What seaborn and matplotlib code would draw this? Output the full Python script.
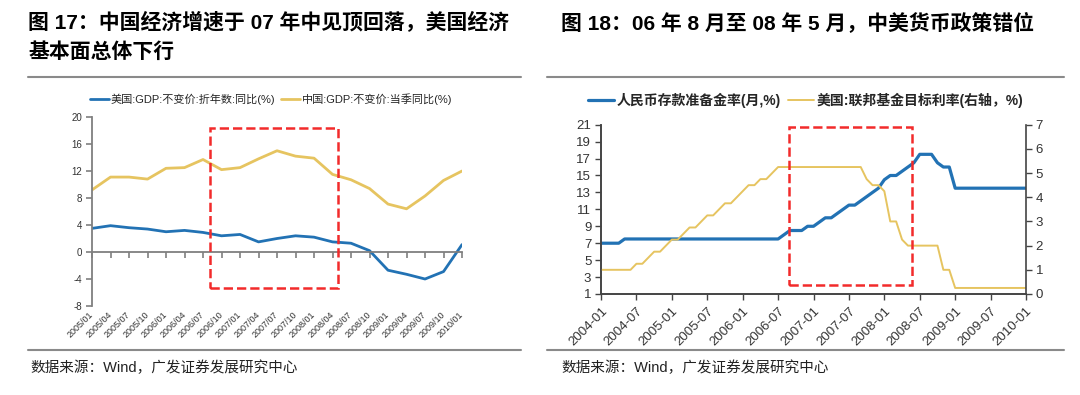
import pandas as pd
import matplotlib
matplotlib.use("Agg")
import matplotlib.pyplot as plt
import seaborn as sns
from matplotlib.patches import Rectangle
from matplotlib.lines import Line2D

sns.set_style("white")
plt.rcParams['font.family'] = ['Liberation Sans', 'Noto Sans CJK SC', 'DejaVu Sans']
plt.rcParams['axes.unicode_minus'] = False

# ---- data: figure 17 (quarterly GDP yoy)
quarters = ["2005/01", "2005/04", "2005/07", "2005/10", "2006/01", "2006/04", "2006/07",
            "2006/10", "2007/01", "2007/04", "2007/07", "2007/10", "2008/01", "2008/04",
            "2008/07", "2008/10", "2009/01", "2009/04", "2009/07", "2009/10", "2010/01"]
us_gdp = [3.5, 3.9, 3.6, 3.4, 3.0, 3.2, 2.9, 2.4, 2.6, 1.5, 2.0, 2.4, 2.2, 1.5,
          1.3, 0.2, -2.7, -3.3, -4.0, -2.9, 1.1]
cn_gdp = [9.2, 11.1, 11.1, 10.8, 12.4, 12.5, 13.7, 12.2, 12.5, 13.8, 15.0, 14.2, 13.9, 11.5,
          10.7, 9.4, 7.1, 6.4, 8.3, 10.6, 12.0]
box17 = (6.4, 13.3, -5.35, 18.4)

# ---- data: figure 18 (monthly, 2004-01 .. 2010-01)
month_ticks = ["2004-01", "2004-07", "2005-01", "2005-07", "2006-01", "2006-07", "2007-01",
               "2007-07", "2008-01", "2008-07", "2009-01", "2009-07", "2010-01"]
rrr = ([7.0] * 4 + [7.5] * 27 + [8.0] + [8.5] * 3 + [9.0] * 2 + [9.5] + [10.0] * 2
       + [10.5, 11.0] + [11.5] * 2 + [12.0, 12.5, 13.0, 13.5, 14.5] + [15.0] * 2
       + [15.5, 16.0, 16.5] + [17.5] * 3 + [16.5] + [16.0] * 2 + [13.5] * 13)
fed_rate = ([1.0] * 6 + [1.25] * 2 + [1.5] + [1.75] * 2 + [2.0] + [2.25] * 2 + [2.5]
            + [2.75] * 2 + [3.0] + [3.25] * 2 + [3.5] + [3.75] * 2 + [4.0, 4.25]
            + [4.5] * 2 + [4.75] * 2 + [5.0] + [5.25] * 15 + [4.75] + [4.5] * 2 + [4.25]
            + [3.0] * 2 + [2.25] + [2.0] * 6 + [1.0] * 2 + [0.25] * 13)
box18 = (31.8, 52.7, 2.1, 20.7)

BLUE = "#2272B4"
GOLD = "#E6C460"
RED = "#F22B2B"
AXC = "#7f7f7f"

fig = plt.figure(figsize=(10.8, 3.95), dpi=100)

# ================= left panel =================
ax1 = fig.add_axes([0.0852, 0.2253, 0.3426, 0.4785])
df_gdp = pd.DataFrame({"q": range(len(quarters)), "us": us_gdp, "cn": cn_gdp})
sns.lineplot(data=df_gdp, x="q", y="cn", ax=ax1, color=GOLD, lw=2.0)
sns.lineplot(data=df_gdp, x="q", y="us", ax=ax1, color=BLUE, lw=2.0)
ax1.set_xlim(0, len(quarters) - 1)
ax1.set_ylim(-8, 20)
ax1.set_yticks(range(-8, 21, 4))
ax1.set_xticks(range(len(quarters)))
ax1.set_xlabel("")
ax1.set_ylabel("")
for s in ["top", "right"]:
    ax1.spines[s].set_visible(False)
ax1.spines["bottom"].set_position(("data", 0))
for s in ["left", "bottom"]:
    ax1.spines[s].set_color(AXC)
    ax1.spines[s].set_linewidth(1.3)
ax1.tick_params(axis="x", length=4, width=1.2, color=AXC, direction="out", labelbottom=False, bottom=True)
ax1.tick_params(axis="y", length=4, width=1.2, color=AXC, direction="out", left=True,
                labelsize=7, labelcolor="#333333", pad=3)
sec = ax1.secondary_xaxis("bottom")
sec.set_xticks(range(len(quarters)))
sec.set_xticklabels(quarters, rotation=45, ha="right", va="center", rotation_mode="anchor",
                    fontsize=6.5, color="#333333")
sec.tick_params(length=0, pad=5)
sec.spines["bottom"].set_visible(False)
ax1.add_patch(Rectangle((box17[0], box17[2]), box17[1] - box17[0], box17[3] - box17[2],
                        fill=False, ls="--", lw=1.8, ec=RED, clip_on=False, zorder=5))

h1 = [Line2D([], [], color=BLUE, lw=2.0), Line2D([], [], color=GOLD, lw=2.0)]
fig.legend(h1, ["美国:GDP:不变价:折年数:同比(%)", "中国:GDP:不变价:当季同比(%)"],
           loc="center", bbox_to_anchor=(0.251, 0.749), ncol=2, frameon=False,
           fontsize=8, handlelength=1.7, handletextpad=0.2, columnspacing=0.5)

# ================= right panel =================
ax2 = fig.add_axes([0.5565, 0.2557, 0.3935, 0.4286])
ax2r = ax2.twinx()
df_rate = pd.DataFrame({"m": range(len(rrr)), "rrr": rrr, "fed": fed_rate})
sns.lineplot(data=df_rate, x="m", y="fed", ax=ax2r, color=GOLD, lw=1.4)
sns.lineplot(data=df_rate, x="m", y="rrr", ax=ax2, color=BLUE, lw=2.3)
ax2.set_xlim(0, len(rrr) - 1)
ax2.set_ylim(1, 21)
ax2.set_yticks(range(1, 22, 2))
ax2r.set_ylim(0, 7)
ax2r.set_yticks(range(0, 8))
ax2.set_xticks(range(0, len(rrr), 6))
ax2.set_xticklabels(month_ticks, rotation=45, ha="right", va="top", rotation_mode="anchor",
                    fontsize=9.5, color="#333333")
for a in (ax2, ax2r):
    a.set_xlabel("")
    a.set_ylabel("")
    a.spines["top"].set_visible(False)
    for s in ["left", "bottom", "right"]:
        a.spines[s].set_color("#444444")
        a.spines[s].set_linewidth(1.2)
ax2.spines["right"].set_visible(False)
ax2.tick_params(axis="x", length=4, width=1, color="#444444", direction="out", bottom=True, pad=4)
ax2.tick_params(axis="y", length=4, width=1, color="#444444", direction="out", left=True,
                labelsize=9.5, labelcolor="#333333", pad=3)
ax2r.tick_params(axis="y", length=4, width=1, color="#444444", direction="out", right=True,
                 labelsize=9.5, labelcolor="#333333", pad=3)
ax2r.add_patch(Rectangle((box18[0], (box18[2] - 1) * 7 / 20), box18[1] - box18[0],
                         (box18[3] - box18[2]) * 7 / 20, fill=False, ls="--", lw=1.8,
                         ec=RED, clip_on=False, zorder=5))

h2 = [Line2D([], [], color=BLUE, lw=2.3), Line2D([], [], color=GOLD, lw=1.4)]
fig.legend(h2, ["人民币存款准备金率(月,%)", "美国:联邦基金目标利率(右轴，%)"],
           loc="center", bbox_to_anchor=(0.746, 0.747), ncol=2, frameon=False,
           handlelength=1.9, handletextpad=0.2, columnspacing=0.45,
           prop={"weight": "bold", "size": 10})

# ================= titles, rules, sources =================
fig.text(0.026, 0.944, "图 17：中国经济增速于 07 年中见顶回落，美国经济", fontsize=15,
         fontweight="bold", va="center", ha="left", color="black")
fig.text(0.026, 0.868, "基本面总体下行", fontsize=15, fontweight="bold", va="center",
         ha="left", color="black")
fig.text(0.519, 0.944, "图 18：06 年 8 月至 08 年 5 月，中美货币政策错位", fontsize=15,
         fontweight="bold", va="center", ha="left", color="black")

for x0, x1 in [(28, 521), (547, 1064)]:
    for yp in (77, 350):
        fig.add_artist(Line2D([x0 / 1080, x1 / 1080], [1 - yp / 395] * 2,
                              color="#8a8a8a", lw=1.5))

fig.text(0.028, 1 - 368 / 395, "数据来源：Wind，广发证券发展研究中心", fontsize=10.5,
         va="center", ha="left", color="#222222")
fig.text(0.52, 1 - 368 / 395, "数据来源：Wind，广发证券发展研究中心", fontsize=10.5,
         va="center", ha="left", color="#222222")

fig.savefig("out.png", dpi=100)
